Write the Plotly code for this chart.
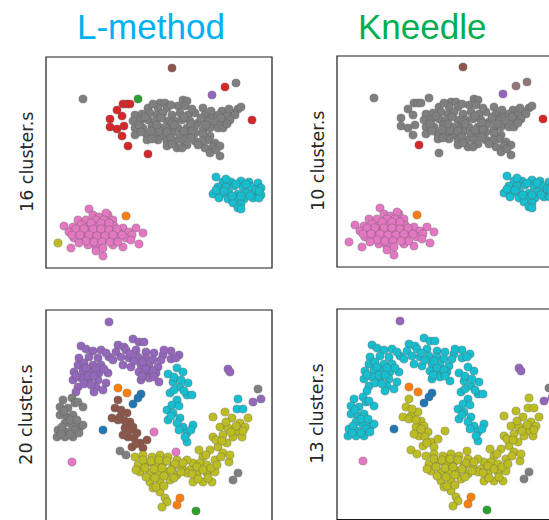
import plotly.graph_objects as go

W, H = 549, 520

# ---------------- data: blobs dataset (top row) ----------------
T_MAIN = [(114,46),(119,46),(137,43),(141,44),(102,51),(112,51),(121,51),(132,49),(139,49),(157,51),
          (176,54),(192,52),(187,56),(89,58),(96,57),(104,56),(111,58),(117,56),(126,58),(134,56),
          (142,58),(149,56),(159,58),(166,59),(172,58),(181,59),(189,58),(87,64),(94,64),(102,63),
          (109,64),(121,64),(129,64),(136,63),(144,64),(152,66),(161,64),(169,66),(177,64),(184,63),
          (89,71),(97,71),(106,69),(116,71),(124,69),(132,71),(141,71),(149,69),(157,73),(164,71),
          (172,71),(177,71),(89,78),(101,78),(109,78),(117,79),(126,76),(134,78),(142,78),(149,76),
          (164,79),(101,83),(112,83),(121,84),(129,84),(137,84),(149,84),(162,83),(169,86),(121,89),
          (131,91),(141,88),(159,91),(167,90),(174,89),(164,96),(174,99),(126,66),(113,74),(138,74),
          (107,47),(125,48),(146,52),(165,54),(183,52),(195,50),(99,60),(115,61),(138,60),(155,61),
          (175,61),(93,68),(111,68),(128,68),(145,67),(160,68),(181,67),(95,75),(105,74),(121,75),
          (146,74),(157,77),(106,82),(125,81),(145,81),(156,84),(126,87),(136,91),(170,93),(152,88)]
T_LEFT = [(77,47),(81,47),(84,47),(71,53),(64,62),(76,59),(64,70),(71,72),(78,69),(76,79),(102,97)]
T_RED1 = [(82,89)]
T_RED_R = [(206,63)]
T_BROWN = [(126,11)]
T_TR1 = [(179,30)]
T_TR2 = [(190,26)]
T_PURPLE = [(166,38)]
T_GREEN = [(92,42)]
T_GRAYL = [(37,42)]
T_CYAN = [(170,120),(177,125),(185,125),(195,124),(203,125),(212,126),(172,130),(180,130),(188,129),
          (197,130),(205,130),(215,131),(167,137),(175,137),(183,136),(192,137),(200,136),(208,137),
          (215,138),(173,141),(182,142),(190,141),(198,142),(207,141),(213,141),(187,146),(195,147),
          (192,151),(195,152),(180,122),(190,127),(200,127),(210,133),(178,134),(186,139),(195,139),
          (204,139),(170,133),(213,134)]
T_PINK = [(43,152),(62,158),(47,158),(53,160),(60,156),(32,163),(40,163),(50,163),(58,163),(67,163),
          (18,169),(27,170),(35,168),(43,170),(52,169),(60,170),(68,169),(77,171),(90,171),(97,176),
          (23,175),(32,175),(40,175),(48,176),(57,176),(65,175),(73,176),(83,175),(28,181),(37,181),
          (45,181),(53,182),(62,181),(70,182),(80,181),(42,188),(50,190),(67,188),(77,190),(93,187),
          (50,194),(57,199),(45,166),(55,166),(63,166),(30,172),(38,172),(47,172),(55,172),(63,173),
          (71,172),(26,178),(34,178),(43,178),(51,179),(59,179),(67,178),(76,178),(86,178),(40,184),
          (48,185),(56,185),(64,185),(72,185),(85,183),(57,191),(33,186)]
T_ORANGE = [(80,159)]
T_OLIVE = [(12,186)]
T_PINK2 = [(25,191)]

# ---------------- data: moons/spiral dataset (bottom row) ----------------
B_ARC = [(87,29),(93,32),(98,32),(35,36),(72,35),(78,37),(40,39),(47,41),(55,40),(70,42),(80,40),
         (90,40),(100,42),(108,43),(117,45),(125,41),(133,45),(33,48),(43,47),(52,48),(63,47),(75,47),
         (83,48),(92,47),(100,48),(107,50),(125,49),(32,55),(38,53),(47,55),(55,55),(77,55),(85,57),
         (95,55),(103,56),(112,57),(28,62),(37,61),(45,62),(53,63),(62,63),(93,62),(102,63),(110,63),
         (27,70),(35,68),(43,71),(52,70),(60,73),(95,70),(103,68),(113,72),(32,77),(50,77),(57,80),
         (48,82),(30,82),(60,43),(67,50),(88,51),(97,52),(115,50),(118,40),(130,48),(40,58),(50,59),
         (58,59),(42,66),(48,66),(30,66),(38,74),(45,75),(100,59),(107,61),(96,66),(108,67),(84,44)]
B_ARM = [(122,64),(131,58),(137,62),(127,72),(134,77),(142,73),(124,83),(131,90),(141,85),(146,85),
         (121,100),(127,103),(122,110),(134,108),(137,117),(147,115),(141,123),(141,132),(131,113),
         (126,95),(128,67),(135,70),(128,80),(138,81),(133,96),(125,106),(133,120),(145,120),(139,127)]
B_LEFT = [(17,90),(26,88),(29,93),(37,97),(14,97),(22,98),(14,105),(21,107),(27,105),(19,113),
          (26,115),(34,117),(37,115),(12,120),(21,122),(29,120),(11,127),(19,127),(27,127),
          (32,92),(18,101),(24,110),(31,110),(16,117),(24,124),(33,123),(15,124)]
B_BROWN = [(72,90),(69,98),(66,108),(74,107),(81,103),(84,112),(79,118),(87,117),(91,123),(82,127),
           (86,137),(94,133),(101,130),(97,138),(77,125),(72,110),(75,100),(79,111),(88,128),(90,134),
           (84,120)]
B_OLIVE = [(167,107),(179,102),(186,108),(194,113),(202,108),(174,117),(182,118),(191,122),(199,117),
           (167,127),(177,125),(187,127),(196,127),(181,133),(172,137),(164,140),(177,143),(157,147),
           (169,150),(147,153),(154,153),(89,147),(97,145),(106,147),(114,145),(122,147),(131,150),
           (141,150),(92,155),(101,153),(109,155),(117,153),(127,157),(136,158),(144,160),(151,157),
           (161,155),(94,162),(104,163),(112,163),(121,162),(131,165),(141,163),(151,165),(161,163),
           (169,162),(104,172),(114,172),(124,170),(147,172),(157,172),(166,172),(114,182),(119,188),
           (121,192),(183,152),(116,197),(153,140),(90,160),(107,178),(97,150),(105,151),(113,150),
           (121,151),(129,154),(137,153),(99,158),(108,159),(116,158),(125,160),(135,162),(146,164),
           (157,160),(165,158),(100,167),(109,168),(118,166),(128,168),(152,169),(162,168),(171,155),
           (175,147),(184,145),(170,130),(180,112),(190,116),(197,121),(185,122),(176,131),(160,145),
           (110,177),(118,176)]
B_BLUE = [(95,84),(92,88),(87,94),(57,120)]
B_ORANGE = [(72,78),(81,83),(134,188),(131,195)]
B_PINK_L = [(26,152)]
B_PINK_M = [(108,122),(130,142)]
B_GRAY_M = [(74,141),(80,145)]
B_GRAY_BR = [(192,163),(187,170)]
B_GREEN = [(150,201)]
B_PURPLE_TOP = [(63,12)]
B_PURPLE_PAIR = [(182,59),(184,62)]
B_CYAN_OUT = [(192,89),(191,99),(197,99)]
B_GRAY_OUT = [(212,79)]
B_PURPLE_OUT = [(207,92),(215,89)]

TITLES = ["L-method", "Kneedle"]
TITLE_COLORS = ["#00B0F0", "#00B050"]
ROW_LABELS = [["16 cluster.s", "10 cluster.s"], ["20 cluster.s", "13 cluster.s"]]

TAB = {"blue": "#1f77b4", "orange": "#ff7f0e", "green": "#2ca02c", "red": "#d62728",
       "purple": "#9467bd", "brown": "#8c564b", "pink": "#e377c2", "gray": "#7f7f7f",
       "olive": "#bcbd22", "cyan": "#17becf", "rosy": "#907676"}

# (group, colour in L-method panel, colour in Kneedle panel)
TOP_GROUPS = [(T_MAIN, "gray", "gray"), (T_LEFT, "red", "gray"), (T_RED1, "red", "red"),
              (T_RED_R, "red", "red"), (T_BROWN, "brown", "brown"), (T_TR1, "red", "rosy"),
              (T_TR2, "gray", "rosy"), (T_PURPLE, "purple", "purple"), (T_GREEN, "green", "gray"),
              (T_GRAYL, "gray", "gray"), (T_CYAN, "cyan", "cyan"), (T_PINK, "pink", "pink"),
              (T_ORANGE, "orange", "orange"), (T_OLIVE, "olive", "pink"), (T_PINK2, "pink", "pink")]
BOT_GROUPS = [(B_ARC, "purple", "cyan"), (B_ARM, "cyan", "cyan"), (B_LEFT, "gray", "cyan"),
              (B_BROWN, "brown", "olive"), (B_OLIVE, "olive", "olive"), (B_BLUE, "blue", "blue"),
              (B_ORANGE, "orange", "orange"), (B_PINK_L, "pink", "pink"), (B_PINK_M, "pink", "olive"),
              (B_GRAY_M, "gray", "olive"), (B_GRAY_BR, "gray", "gray"), (B_GREEN, "green", "green"),
              (B_PURPLE_TOP, "purple", "purple"), (B_PURPLE_PAIR, "purple", "purple"),
              (B_CYAN_OUT, "cyan", "olive"), (B_GRAY_OUT, "gray", "gray"),
              (B_PURPLE_OUT, "purple", "purple")]

# ---------------- layout geometry (pixels) ----------------
BOXES = {1: (46, 57, 272, 268), 2: (337, 56, 563, 267), 3: (46, 310, 272, 520.5), 4: (337, 309, 563, 519.5)}
XR = {1: 226, 2: 226, 3: 226, 4: 226}
YR = {1: 211, 2: 211, 3: 210.5, 4: 210.5}

fig = go.Figure()

def px(x):
    return x / W

def py(y):
    return 1 - y / H

panel_groups = {1: (TOP_GROUPS, 1), 2: (TOP_GROUPS, 2), 3: (BOT_GROUPS, 1), 4: (BOT_GROUPS, 2)}

layout_axes = {}
for k in range(1, 5):
    l, t, r, b = BOXES[k]
    vis_r = min(r, W)
    vis_b = min(b, H)
    xdom = [px(l), px(vis_r)]
    ydom = [py(vis_b), py(t)]
    xrng = [0, XR[k] * (vis_r - l) / (r - l)]
    yrng = [YR[k] * (vis_b - t) / (b - t), 0]
    suffix = "" if k == 1 else str(k)
    ax = dict(visible=False, showgrid=False, zeroline=False, fixedrange=True)
    layout_axes["xaxis" + suffix] = dict(ax, domain=xdom, range=xrng, anchor="y" + suffix)
    layout_axes["yaxis" + suffix] = dict(ax, domain=ydom, range=yrng, anchor="x" + suffix)
    groups, ci = panel_groups[k]
    for pts, cL, cK in groups:
        col = TAB[cL if ci == 1 else cK]
        fig.add_trace(go.Scatter(
            x=[p[0] for p in pts], y=[p[1] for p in pts], mode="markers",
            marker=dict(size=8.2, color=col, line=dict(width=0.8, color="rgba(90,90,90,0.45)")),
            xaxis="x" + suffix, yaxis="y" + suffix, showlegend=False, hoverinfo="skip"))

shapes = []
for k in range(1, 5):
    l, t, r, b = BOXES[k]
    shapes.append(dict(type="rect", xref="paper", yref="paper", x0=px(l), x1=px(r), y0=py(b), y1=py(t),
                       line=dict(color="#1c1c1c", width=1.2), fillcolor="rgba(0,0,0,0)", layer="above"))

annotations = []
for i, (t, c) in enumerate(zip(TITLES, TITLE_COLORS)):
    cx = [151.5, 421.5][i]
    annotations.append(dict(text=t, x=px(cx), y=py(26), xref="paper", yref="paper", showarrow=False,
                            xanchor="center", yanchor="middle",
                            font=dict(family="Liberation Sans, Arial", size=35, color=c)))
for ri in range(2):
    for ci in range(2):
        k = ri * 2 + ci + 1
        l, t, r, b = BOXES[k]
        cy = (t + min(b, t + 211)) / 2
        annotations.append(dict(text=ROW_LABELS[ri][ci], x=px(l - 19.5), y=py(cy), xref="paper", yref="paper",
                                showarrow=False, textangle=-90, xanchor="center", yanchor="middle",
                                font=dict(family="DejaVu Sans", size=17.5, color="#262626")))

fig.update_layout(width=W, height=H, margin=dict(l=0, r=0, t=0, b=0),
                  paper_bgcolor="white", plot_bgcolor="white",
                  shapes=shapes, annotations=annotations, **layout_axes)

fig.write_html("out.html", config={"displayModeBar": False},
               post_script="document.body.style.margin='0';document.body.style.overflow='hidden';")
